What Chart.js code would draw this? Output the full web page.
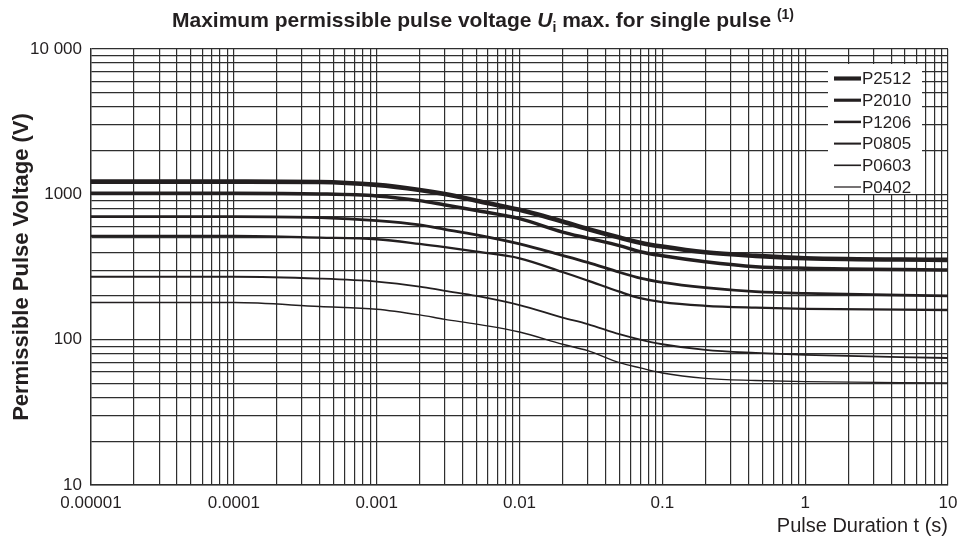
<!DOCTYPE html>
<html>
<head>
<meta charset="utf-8">
<script src="https://cdn.jsdelivr.net/npm/chart.js@4.4.1/dist/chart.umd.min.js"></script>
<style>
  html, body { margin: 0; padding: 0; background: #fff; }
  #wrap { position: relative; width: 960px; height: 540px; }
  #title {
    position: absolute; left: 0; top: 8px; width: 966px; text-align: center;
    font: bold 21px "Liberation Sans", Arial, sans-serif; color: #231f20; line-height: 24px;
  }
  #title sub { font-size: 14px; line-height: 0; }
  #title sup { font-size: 14px; line-height: 0; }
</style>
</head>
<body>
<div id="wrap">
  <div id="title">Maximum permissible pulse voltage <i>U</i><sub>i</sub> max. for single pulse <sup>(1)</sup></div>
  <canvas id="chart" width="960" height="540"></canvas>
</div>
<script>
// pulse duration in seconds
const durations = [0.00001, 0.0001, 0.0004, 0.001, 0.002, 0.003, 0.005, 0.01, 0.02, 0.03, 0.05, 0.07, 0.1, 0.2, 0.45, 1, 10];

// permissible pulse voltage in V
const p2512 = [1223, 1223, 1217, 1161, 1072, 1006, 905, 782, 650, 577, 504, 465, 437, 399, 377, 363, 354];
const p2010 = [1018, 1018, 1007, 975, 905, 845, 773, 680, 550, 500, 444, 403, 378, 344, 318, 310, 302];
const p1206 = [703, 703, 692, 659, 616, 575, 526, 456, 380, 340, 291, 265, 248, 228, 214, 208, 200];
const p0805 = [517, 517, 504, 491, 456, 433, 403, 363, 292, 255, 214, 193, 181, 171, 166, 163, 160];
const p0603 = [271, 271, 263, 251, 232, 217, 200, 173, 142, 128, 109, 100, 93, 85, 81, 78.5, 74.8];
const p0402 = [180, 180, 169, 162, 148, 138, 128, 113, 93, 84, 69.5, 64, 59, 54.2, 52.4, 51.4, 50.4];

const seriesNames = ['P2512', 'P2010', 'P1206', 'P0805', 'P0603', 'P0402'];
const seriesValues = [p2512, p2010, p1206, p0805, p0603, p0402];
const lineWidths = [4.6, 3.5, 2.8, 2.3, 1.8, 1.4];

const xTickLabels = ['0.00001', '0.0001', '0.001', '0.01', '0.1', '1', '10'];
const yTickLabels = ['10', '100', '1000', '10 000'];

const ink = '#231f20';
const gridInk = '#2e2e2e';
const font = '"Liberation Sans", Arial, sans-serif';

// ticks at 1..9 x 10^n so every minor grid line is drawn
function logTicks(minExp, maxExp) {
  const ticks = [];
  for (let e = minExp; e < maxExp; e++) {
    for (let m = 1; m < 10; m++) ticks.push({ value: m * Math.pow(10, e) });
  }
  ticks.push({ value: Math.pow(10, maxExp) });
  return ticks;
}

function decadeLabel(value, labels, minExp) {
  const lg = Math.log10(value);
  const r = Math.round(lg);
  if (Math.abs(lg - r) > 1e-6) return '';
  return labels[r - minExp] || '';
}

const datasets = seriesNames.map((name, i) => ({
  label: name,
  data: durations.map((t, j) => ({ x: t, y: seriesValues[i][j] })),
  borderColor: ink,
  borderWidth: lineWidths[i],
  pointRadius: 0,
  fill: false,
  cubicInterpolationMode: 'monotone',
}));

const boxLegend = {
  id: 'boxLegend',
  afterDatasetsDraw(chart) {
    const { ctx, chartArea } = chart;
    const x0 = chartArea.right - 120;
    const y0 = chartArea.top + 15;
    ctx.save();
    ctx.fillStyle = '#fff';
    ctx.fillRect(x0, y0, 94, 130);
    ctx.font = '17px ' + font;
    ctx.textBaseline = 'middle';
    ctx.textAlign = 'left';
    chart.data.datasets.forEach((ds, i) => {
      const y = y0 + 14.5 + i * 21.7;
      ctx.strokeStyle = ink;
      ctx.lineWidth = ds.borderWidth * 0.9;
      ctx.beginPath();
      ctx.moveTo(x0 + 6, y);
      ctx.lineTo(x0 + 33, y);
      ctx.stroke();
      ctx.fillStyle = ink;
      ctx.fillText(ds.label, x0 + 34, y + 1);
    });
    ctx.restore();
  }
};

new Chart(document.getElementById('chart'), {
  type: 'line',
  data: { datasets: datasets },
  plugins: [boxLegend],
  options: {
    responsive: false,
    animation: false,
    layout: { padding: { top: 49, right: 12, left: 0, bottom: 0 } },
    plugins: {
      legend: { display: false },
      tooltip: { enabled: false },
      title: { display: false },
    },
    scales: {
      x: {
        type: 'logarithmic',
        min: 0.00001,
        max: 10,
        afterBuildTicks: (scale) => { scale.ticks = logTicks(-5, 1); },
        afterFit: (scale) => {
          scale.height = 55;
          scale.paddingLeft = 0;
          scale.paddingRight = 0;
        },
        ticks: {
          autoSkip: false,
          maxRotation: 0,
          padding: 8,
          color: ink,
          font: { family: font, size: 17 },
          callback: (v) => decadeLabel(v, xTickLabels, -5),
        },
        grid: { color: gridInk, lineWidth: 1.2, drawTicks: false },
        border: { color: gridInk, width: 1.4 },
        title: {
          display: true,
          text: 'Pulse Duration t (s)',
          align: 'end',
          color: ink,
          font: { family: font, size: 20 },
          padding: { top: 0, bottom: 2 },
        },
      },
      y: {
        type: 'logarithmic',
        min: 10,
        max: 10000,
        afterBuildTicks: (scale) => { scale.ticks = logTicks(1, 4); },
        afterFit: (scale) => { scale.width = 91; },
        ticks: {
          autoSkip: false,
          padding: 9,
          color: ink,
          font: { family: font, size: 17 },
          callback: (v) => decadeLabel(v, yTickLabels, 1),
        },
        grid: { color: gridInk, lineWidth: 1.2, drawTicks: false },
        border: { color: gridInk, width: 1.4 },
        title: {
          display: true,
          text: 'Permissible Pulse Voltage (V)',
          color: ink,
          font: { family: font, size: 22, weight: 'bold' },
          padding: { top: 9, bottom: 0 },
        },
      },
    },
  },
});
</script>
</body>
</html>
